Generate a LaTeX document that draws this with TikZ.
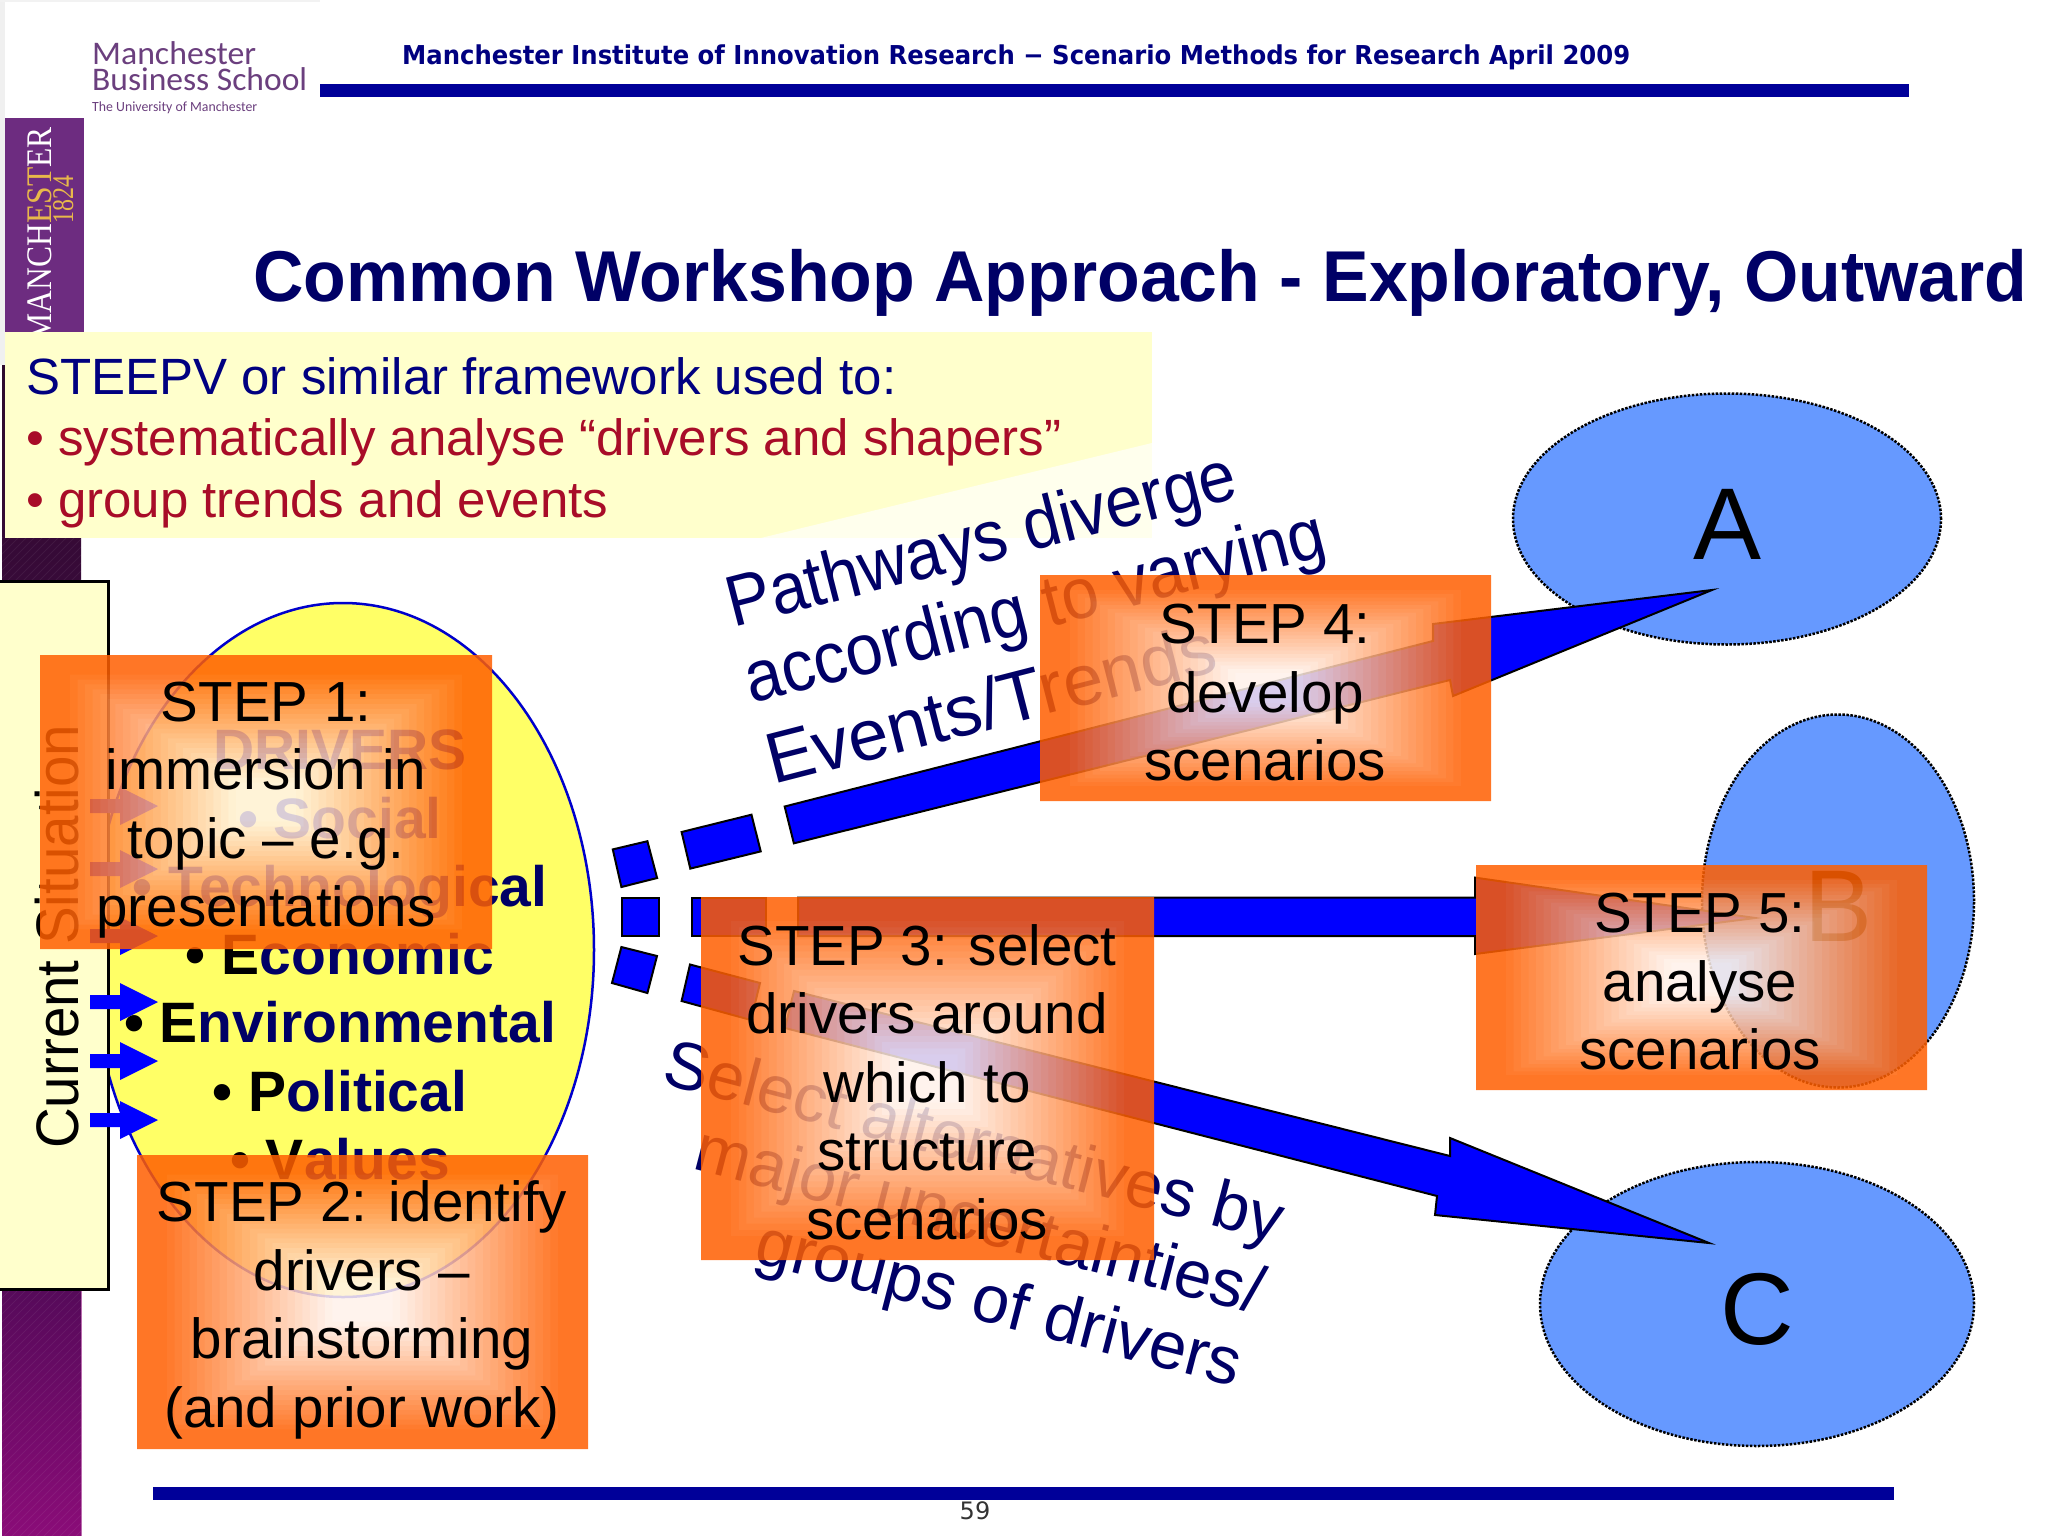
\documentclass[tikz,border=0pt]{standalone}
\usepackage{fontspec}
\usepackage{graphicx}
\setmainfont{Liberation Sans}
\newfontfamily\hdrfont{DejaVu Sans}
\newfontfamily\logofont{Carlito}
\newfontfamily\crestfont{Liberation Serif}
\usetikzlibrary{shapes.geometric,calc}
\definecolor{navyt}{HTML}{000066}
\definecolor{navyh}{HTML}{000080}
\definecolor{barblue}{HTML}{000099}
\definecolor{crim}{HTML}{A80C28}
\definecolor{paley}{HTML}{FFFFCC}
\definecolor{elly}{HTML}{FFFF66}
\definecolor{ellb}{HTML}{6699FF}
\definecolor{orng}{HTML}{FF5F00}
\definecolor{lpurple}{HTML}{6B3F7E}
\definecolor{gold}{HTML}{E8B84A}
\definecolor{bandtop}{HTML}{6D2C80}
\definecolor{banda}{HTML}{2E0A2E}
\definecolor{bandb}{HTML}{560A5A}
\definecolor{bandc}{HTML}{8A0C78}
\newcommand\fitw[2]{\resizebox{#1pt}{\height}{#2}}
\newcommand\fs[1]{\fontsize{#1}{#1}\selectfont}
\newcommand\lowered[1]{\raisebox{-5pt}[\height][\depth]{#1}}
\tikzset{
  arrowpoly/.style={fill=blue,draw=black,line width=2pt,line join=miter},
  smallarr/.style={fill=blue,draw=none},
  outcome/.style={ellipse,fill=ellb,draw=black,line width=2.5pt,dash pattern=on 2.5pt off 1.5pt,inner sep=0pt,font=\fontsize{102}{102}\selectfont},
  steptext/.style={align=center,inner sep=0pt,text=black,font=\fontsize{56.5}{68.5}\selectfont},
  wordart/.style={anchor=base west,inner sep=0pt,text=navyt},
  plainlabel/.style={anchor=base west,inner sep=0pt},
}
% gradient panel: nested opaque rectangles in a translucent group
\newcommand\stepgrad[4]{%
  \begin{scope}[transparency group,opacity=.85]
  \foreach \k in {0,...,29}{%
    \pgfmathsetmacro\fa{\k/60}%
    \pgfmathsetmacro\pc{max(8,min(100,100-92*((\k/30)-0.1)/0.75))}%
    \pgfmathsetmacro\xa{#1+\fa*(#3-#1)}\pgfmathsetmacro\xb{#3-\fa*(#3-#1)}%
    \pgfmathsetmacro\ya{#2+\fa*(#4-#2)}\pgfmathsetmacro\yb{#4-\fa*(#4-#2)}%
    \fill[orng!\pc!white] (\xa,\ya) rectangle (\xb,\yb);%
  }%
  \end{scope}%
}
\newcommand\smallarrow[1]{%
  \fill[smallarr] (90,#1-7) -- (120,#1-7) -- (120,#1-19) -- (158,#1) -- (120,#1+19) -- (120,#1+7) -- (90,#1+7) -- cycle;}
\begin{document}
\begin{tikzpicture}[x=1pt,y=-1pt]
\useasboundingbox (0,0) rectangle (2048,1536);
\fill[white] (0,0) rectangle (2048,1536);
\fill[black!6] (0,0) rectangle (5,365);
\fill[black!5] (0,0) rectangle (320,2);
% side band
\fill[bandtop] (5,118) rectangle (84,365);
\shade[top color=banda,bottom color=bandb] (2,365) rectangle (81,1291);
\shade[top color=bandb,bottom color=bandc] (2,1290) rectangle (81,1536);
\begin{scope}
  \clip (2,537) rectangle (81,1536);
  \foreach \s in {540,548,...,1620}{\draw[white,opacity=.06,line width=1pt] (0,\s) -- (84,\s-84);}
\end{scope}
\draw[bandc!60!white,line width=1pt] (81.5,1290) -- (81.5,1536);
\node[rotate=90,anchor=base east,inner sep=0pt,text=white,font=\crestfont\fs{36}] (crest) at (51,127) {\fitw{214}{MANCH\textcolor{gold}{EST}ER}};
\node[rotate=90,anchor=base east,inner sep=0pt,text=gold,font=\crestfont\fs{30}] (year) at (73,175) {\fitw{48}{1824}};
% logo
\node[plainlabel,text=lpurple,font=\logofont\fs{33}] (logoa) at (92,64.5) {\fitw{164}{Manchester}};
\node[plainlabel,text=lpurple,font=\logofont\fs{33}] (logob) at (92,91) {\fitw{215}{Business School}};
\node[plainlabel,text=lpurple,font=\logofont\fs{14}] (logoc) at (92,112) {\fitw{165}{The University of Manchester}};
% header & footer
\node[plainlabel,text=navyh,font=\hdrfont\bfseries\fs{26}] (hdr) at (402,65) {\fitw{1228}{Manchester Institute of Innovation Research − Scenario Methods for Research April 2009}};
\fill[barblue] (320,84) rectangle (1909,97);
\fill[barblue] (153,1487) rectangle (1894,1500);
\node[inner sep=0pt,text=black!80,font=\hdrfont\fs{24}] (pageno) at (975,1511) {59};
% title
\node[plainlabel,text=navyt,font=\bfseries\fs{72}] (title) at (253,301) {\fitw{1774}{Common Workshop Approach - Exploratory, Outward}};
% drivers ellipse
\node[ellipse,fill=elly,draw=blue!80!black,line width=2.5pt,minimum width=502pt,minimum height=694pt,inner sep=0pt] (drivers) at (343,950) {};
% current situation
\fill[paley,draw=black,line width=3pt] (-2,581) rectangle (108,1289);
\node[rotate=90,plainlabel,text=black,font=\fs{60}] (current) at (78,1149) {\fitw{424}{Current Situation}};
\node[align=center,inner sep=0pt,text=navyt,font=\fontsize{57}{68.3}\bfseries\selectfont] (drvlist) at (340,955) {%
  DRIVERS\\ • Social\\ • Technological\\ \textcolor{black}{• E}conomic\\ \textcolor{black}{• E}nvironmental\\ \textcolor{black}{• P}olitical\\ \textcolor{black}{• V}alues};
\smallarrow{806}\smallarrow{869}\smallarrow{936}\smallarrow{1002}\smallarrow{1061}\smallarrow{1120}
% outcomes
\node[outcome,minimum width=428pt,minimum height=251pt] (A) at (1727,519) {\lowered{A}};
\node[outcome,minimum width=272pt,minimum height=373pt] (B) at (1838,901) {\lowered{B}};
\node[outcome,minimum width=434pt,minimum height=284pt] (C) at (1757,1304) {\lowered{C}};
% dashed block arrows
\draw[arrowpoly] (612.8,849.4) -- (647.4,841.2) -- (657.1,878) -- (621.4,887) -- cycle;
\draw[arrowpoly] (681.6,832) -- (751.5,814.7) -- (760.7,851.4) -- (690.3,868.6) -- cycle;
\draw[arrowpoly] (784.7,806.5) -- (1433,641) -- (1433,624) -- (1712,590) -- (1453,696) -- (1450,680) -- (793.9,843.3) -- cycle;
\draw[arrowpoly] (622,897.5) rectangle (659,936);
\draw[arrowpoly] (692,897.5) rectangle (766,936);
\draw[arrowpoly] (798,897.5) -- (1475,897.5) -- (1475,877.6) -- (1755,918) -- (1475,954) -- (1475,936) -- (798,936) -- cycle;
\draw[arrowpoly] (621.4,947) -- (657,956) -- (647.4,993) -- (612,983) -- cycle;
\draw[arrowpoly] (690,964.5) -- (760,983) -- (751,1020) -- (681.6,1001) -- cycle;
\draw[arrowpoly] (794,991) -- (1450,1156) -- (1450,1138) -- (1709,1243) -- (1435,1215) -- (1437,1196) -- (785,1028) -- cycle;
% framework panel
\fill[paley] (5,332) rectangle (1152,538);
\fill[white,opacity=.65] (761,538) -- (1152,443) -- (1152,538) -- cycle;
\node[plainlabel,text=navyh,font=\fs{51}] (fwa) at (26,394) {STEEPV or similar framework used to:};
\node[plainlabel,text=crim,font=\fs{51}] (fwb) at (26,455) {• systematically analyse “drivers and shapers”};
\node[plainlabel,text=crim,font=\fs{51}] (fwc) at (26,517) {• group trends and events};
% slanted texts
\node[wordart,rotate=14.4,font=\fs{72}] (upa) at (733,628) {\fitw{524}{Pathways diverge}};
\node[wordart,rotate=14.4,font=\fs{72}] (upb) at (751,704) {\fitw{597}{according to varying}};
\node[wordart,rotate=14.4,font=\fs{72}] (upc) at (773,785) {Events/Trends};
\node[wordart,rotate=-14.5,font=\fs{67}] (dna) at (660,1083) {Select alternatives by};
\node[wordart,rotate=-14.5,font=\fs{67}] (dnb) at (691,1168) {major uncertainties/};
\node[wordart,rotate=-14.5,font=\fs{67}] (dnc) at (752,1262) {groups of drivers};
% step panels
\stepgrad{40}{655}{492}{949}
\node[steptext] (stepa) at (266,810) {STEP 1:\\ immersion in\\ topic – e.g.\\ presentations};
\stepgrad{137}{1155}{588}{1449}
\node[steptext] (stepb) at (362,1310) {STEP 2: identify\\ drivers –\\ brainstorming\\ (and prior work)};
\stepgrad{701}{897}{1154}{1260}
\node[steptext] (stepc) at (927,1082) {STEP 3: select\\ drivers around\\ which to\\ structure\\ scenarios};
\stepgrad{1040}{575}{1491}{801}
\node[steptext] (stepd) at (1265,693) {STEP 4:\\ develop\\ scenarios};
\stepgrad{1476}{865}{1927}{1090}
\node[steptext] (stepe) at (1700,982) {STEP 5:\\ analyse\\ scenarios};
\end{tikzpicture}
\end{document}
